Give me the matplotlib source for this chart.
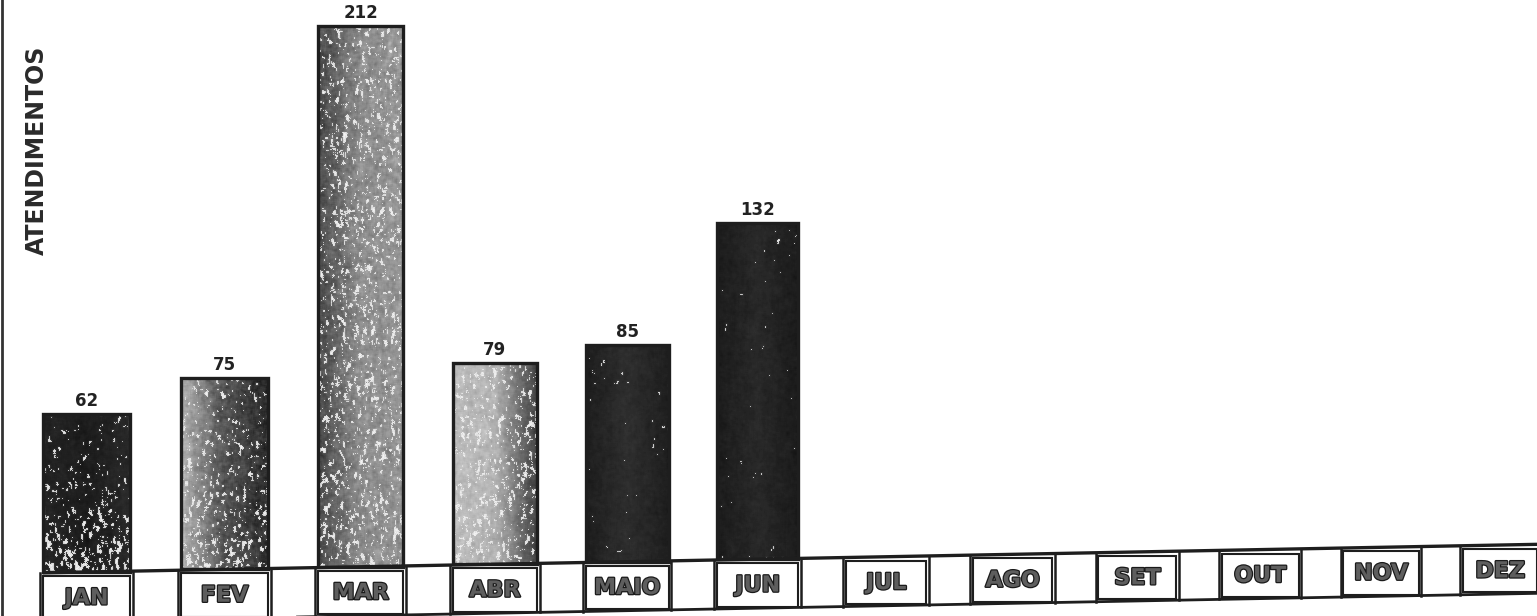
import numpy as np
import matplotlib
matplotlib.use("Agg")
import matplotlib.pyplot as plt
from matplotlib.patches import Rectangle
import matplotlib.patheffects as pe

# ---- data -------------------------------------------------------------
months = ["JAN", "FEV", "MAR", "ABR", "MAIO", "JUN",
          "JUL", "AGO", "SET", "OUT", "NOV", "DEZ"]
bar_months = ["JAN", "FEV", "MAR", "ABR", "MAIO", "JUN"]
atendimentos = [62, 75, 212, 79, 85, 132]
y_title = "ATENDIMENTOS"

# ---- hand-shaded fill for each bar: (left, mid, right tone, grain, speckle, bottom speckle)
fills = [
    (0.14, 0.11, 0.16, 0.035, 0.04, 0.30),
    (0.70, 0.32, 0.18, 0.11, 0.07, 0.18),
    (0.28, 0.55, 0.58, 0.11, 0.12, 0.05),
    (0.74, 0.70, 0.26, 0.08, 0.12, 0.05),
    (0.12, 0.18, 0.12, 0.03, 0.004, 0.0),
    (0.11, 0.16, 0.11, 0.03, 0.003, 0.0),
]

INK = "#1e1e1e"
W, H, DPI = 1537, 616, 100

fig = plt.figure(figsize=(W / DPI, H / DPI), dpi=DPI, facecolor="white")
ax = fig.add_axes([0, 0, 1, 1])
ax.set_axis_off()

# the month spacing narrows slightly toward the right of the sheet
Q = 0.00686


def fwd(x):
    x = np.asarray(x, float)
    return x - Q * x * x


def inv(t):
    t = np.asarray(t, float)
    return (1 - np.sqrt(np.maximum(1 - 4 * Q * t, 0))) / (2 * Q)


ax.set_xscale("function", functions=(fwd, inv))

PX0, PXU = 86.5, 139.0      # first month centre / px per month
YS = 2.55                    # px per attendance
BASE_PX = 572.0
t_left, t_right = -PX0 / PXU, (W - PX0) / PXU
XLIM = (float(inv(t_left)), float(inv(t_right)))
YLIM = (-(H - BASE_PX) / YS, BASE_PX / YS)
ax.set_xlim(*XLIM)
ax.set_ylim(*YLIM)
ax.autoscale(False)

TILT = 1.04                  # the ruled strip rises gently to the right
BAND = 49.0 / YS
BW = 0.63


def base(x):
    return TILT * fwd(x)


pos = np.arange(len(months), dtype=float)
bar_pos = pos[:len(atendimentos)]
bottoms = base(bar_pos)

bars = ax.bar(bar_pos, atendimentos, width=BW, bottom=bottoms, fill=False,
              edgecolor=INK, linewidth=2.4, zorder=4)


def box_blur(a, r, axis):
    if r < 1:
        return a
    pad = [(0, 0), (0, 0)]
    pad[axis] = (r, r)
    p = np.pad(a, pad, mode="reflect")
    c = np.cumsum(p, axis=axis)
    c = np.insert(c, 0, 0, axis=axis)
    n = 2 * r + 1
    if axis == 0:
        return (c[n:] - c[:-n]) / n
    return (c[:, n:] - c[:, :-n]) / n


def texture(h, w, style, rng):
    left, mid, right, grain, speck, bottom_speck = style
    u = np.linspace(0, 1, w)
    prof = np.interp(u, [0, 0.5, 1], [left, mid, right])
    v = np.linspace(0, 1, h)[:, None]
    n1 = box_blur(box_blur(rng.random((h, w)), 1, 0), 1, 1)
    n2 = box_blur(box_blur(rng.random((h, w)), 8, 0), 2, 1)
    n3 = box_blur(box_blur(rng.random((h, w)), 3, 0), 3, 1)
    img = prof[None, :] + grain * ((n1 - 0.5) * 2.0 + (n2 - 0.5) * 4.0
                                   + (n3 - 0.5) * 4.0)
    # pale flecks where the crayon skipped
    s = box_blur(box_blur(rng.random((h, w)), 2, 0), 1, 1)
    rank = s.ravel().argsort().argsort().reshape(h, w) / s.size
    dens = speck + bottom_speck * v ** 3
    mask = rank > (1 - dens)
    img[mask] = 0.85 + 0.12 * rng.random(int(mask.sum()))
    img = 0.75 * img + 0.25 * box_blur(box_blur(img, 1, 0), 1, 1)
    return np.clip(img, 0.0, 1.0)


# shading laid in under each bar outline, pixel for pixel
rng = np.random.default_rng(7)
for patch, style in zip(bars, fills):
    bx, by = patch.get_x(), patch.get_y()
    corners = ax.transData.transform([(bx, by),
                                      (bx + patch.get_width(), by + patch.get_height())])
    (x0, y0), (x1, y1) = corners
    xo, yo = int(round(x0)), int(round(y0))
    w, h = int(round(x1)) - xo, int(round(y1)) - yo
    tex = texture(h, w, style, rng)
    fig.figimage(tex, xo=xo, yo=yo, cmap="gray", vmin=0, vmax=1,
                 origin="upper", zorder=-1)

# value labels
for x, b, v in zip(bar_pos, bottoms, atendimentos):
    ax.text(x, b + v + 8.0 / YS, str(v), ha="center", va="baseline",
            fontsize=12, fontweight="bold", color="#222222", zorder=6)

# ruled month strip
xs = np.linspace(-BW / 2, XLIM[1] + 0.2, 400)
ax.plot(xs, base(xs), color=INK, lw=2.4, zorder=5, solid_capstyle="butt")
ax.plot(xs, base(xs) - BAND, color=INK, lw=2.0, zorder=5, solid_capstyle="butt")
GAP = 0.022
for i, m in enumerate(months):
    xa, xb = i - BW / 2, i + BW / 2
    for xe in (xa - GAP, xb + GAP):
        ax.plot([xe, xe], [base(xe), base(xe) - BAND], color=INK, lw=1.8,
                zorder=5)
    top = float(base(i))
    ax.add_patch(Rectangle((xa, top - BAND + 0.6), xb - xa, BAND - 0.6 - 1.6,
                           fill=False, ec=INK, lw=1.5, zorder=5))
    ax.text(i, top - 12.7, m, ha="center", va="baseline", fontsize=16,
            fontweight="bold", color="#5e5e5e", zorder=6,
            path_effects=[pe.withStroke(linewidth=1.8, foreground="#1a1a1a")])

# axis title and the sheet's left edge
fig.text(37 / W, 1 - 150 / H, y_title, rotation=90, ha="center", va="center",
         fontsize=17, fontweight="bold", color="#2a2a2a")
fig.add_artist(plt.Line2D([1.5 / W, 1.5 / W], [0, 1], transform=fig.transFigure,
                          color="#333333", lw=2.0))

fig.savefig("out.png", dpi=DPI, facecolor="white")
